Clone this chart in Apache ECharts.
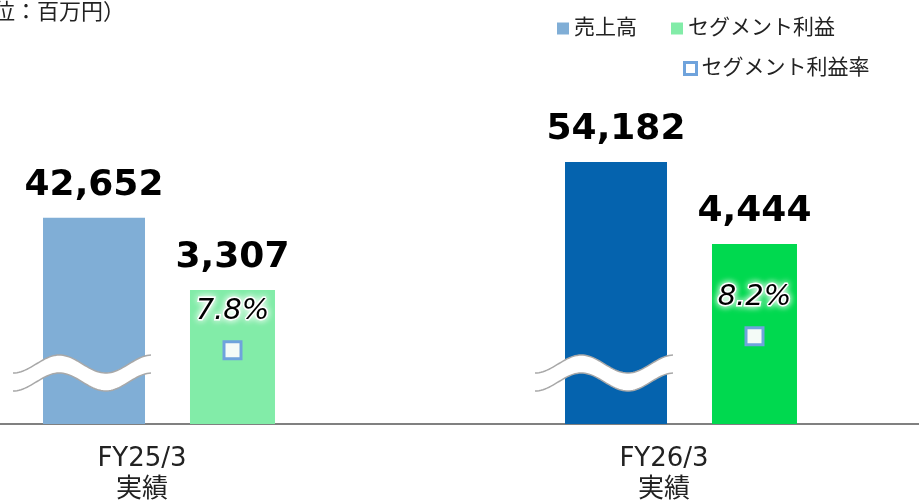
<!DOCTYPE html>
<html>
<head>
<meta charset="utf-8">
<title>売上高・セグメント利益</title>
<script src="https://cdn.jsdelivr.net/npm/echarts@6/dist/echarts.min.js"></script>
<style>
    *{ margin:0; padding:0; }
    html, body{ width:100%; height:100%; background:#fff; }
    #main{ width:919px; height:503px; }
</style>
</head>
<body>
<div id="main"></div>
<script>
    // データ
    var categories = ['FY25/3\n実績', 'FY26/3\n実績'];
    var sales = [42652, 54182];      // 売上高
    var profit = [3307, 4444];       // セグメント利益
    var margin = [7.8, 8.2];         // セグメント利益率(%)
    var salesColors = ['#80aed6', '#0563ae'];
    var profitColors = ['#82eca8', '#00d94f'];

    var FONT = "'DejaVu Sans', 'Noto Sans CJK JP', sans-serif";

    var myChart = echarts.init(document.getElementById('main'));

    function fmt(v){ return v.toLocaleString('en-US'); }

    var salesData = sales.map(function(v, i){
        return { value: v, itemStyle: { color: salesColors[i] } };
    });
    var profitData = profit.map(function(v, i){
        return { value: v, itemStyle: { color: profitColors[i] } };
    });

    var valueLabel = {
        show: true,
        position: 'top',
        distance: 14,
        color: '#000',
        fontFamily: FONT,
        fontWeight: 'bold',
        fontSize: 36,
        formatter: function(p){ return fmt(p.value); }
    };

    myChart.setOption({
        animation: false,
        textStyle: { fontFamily: FONT },
        grid: { left: -102, right: -23, top: 24, bottom: 79,
                containLabel: false, outerBoundsMode: 'none' },
        legend: [{
            left: 552, top: 13,
            itemWidth: 12, itemHeight: 12, itemGap: 34,
            icon: 'rect',
            textStyle: { fontSize: 21, color: '#222', fontFamily: FONT },
            data: ['売上高', 'セグメント利益']
        }, {
            left: 678, top: 53,
            itemWidth: 12, itemHeight: 12,
            textStyle: { fontSize: 21, color: '#222', fontFamily: FONT },
            data: [{ name: 'セグメント利益率', icon: 'rect',
                     itemStyle: { color: '#ffffff', borderColor: '#6fa3dc', borderWidth: 3 } }]
        }],
        xAxis: {
            type: 'category',
            data: categories,
            axisTick: { show: false },
            axisLine: { lineStyle: { color: '#808080', width: 2 } },
            axisLabel: {
                color: '#222', fontSize: 26, lineHeight: 31, margin: 20,
                fontFamily: FONT, padding: [0, 34, 0, 0]
            }
        },
        yAxis: [
            { type: 'value', min: 0, max: 82750, show: false },
            { type: 'value', min: 0, max: 9870, show: false },
            { type: 'value', min: 5.7, max: 17.1, show: false }
        ],
        series: [{
            name: '売上高',
            type: 'bar',
            yAxisIndex: 0,
            barWidth: 102,
            barGap: '44.1%',
            itemStyle: { color: salesColors[0] },
            label: valueLabel,
            data: salesData
        }, {
            name: 'セグメント利益',
            type: 'bar',
            yAxisIndex: 1,
            barWidth: 85,
            itemStyle: { color: profitColors[0] },
            label: valueLabel,
            data: profitData
        }, {
            name: 'セグメント利益率',
            type: 'line',
            yAxisIndex: 2,
            symbol: 'rect',
            symbolSize: 17,
            symbolOffset: [73.5, 0],
            lineStyle: { opacity: 0 },
            itemStyle: { color: '#f4fbf7', borderColor: '#6fa3dc', borderWidth: 3 },
            label: {
                show: true,
                position: 'top',
                distance: 14,
                color: '#000',
                fontFamily: FONT,
                fontStyle: 'italic',
                fontSize: 29,
                textBorderColor: '#fff',
                textBorderWidth: 3,
                textShadowColor: '#fff',
                textShadowBlur: 7,
                formatter: function(p){ return p.value.toFixed(1) + '%'; }
            },
            z: 5,
            data: margin
        }]
    });

    // 波線(省略記号)を売上高の棒の上に描く
    function wavePoints(x0, x1, cy, amp){
        var pts = [];
        var period = (x1 - x0) / 1.5;
        for (var x = x0; x <= x1 + 0.01; x += 2) {
            pts.push([x, cy + amp * Math.cos(2 * Math.PI * (x - x0) / period)]);
        }
        return pts;
    }

    var graphics = [{
        type: 'text', id: 'unit', left: -51, top: 0,
        style: { text: '（単位：百万円）', fontSize: 22, fill: '#222',
                 fontFamily: "'Noto Sans CJK JP', sans-serif" }
    }];

    var barData = myChart.getModel().getSeriesByIndex(0).getData();
    for (var i = 0; i < sales.length; i++) {
        var lay = barData.getItemLayout(i);
        var base = Math.max(lay.y, lay.y + lay.height);
        var x0 = lay.x - 30, x1 = lay.x + lay.width + 7;
        var up = wavePoints(x0, x1, base - 60, 9);
        var low = wavePoints(x0, x1, base - 42, 9);
        graphics.push({
            type: 'polygon', z: 10,
            shape: { points: up.concat(low.slice().reverse()) },
            style: { fill: '#ffffff', stroke: null }
        }, {
            type: 'polyline', z: 11,
            shape: { points: up },
            style: { stroke: '#a8a8a8', lineWidth: 1.5, fill: null }
        }, {
            type: 'polyline', z: 11,
            shape: { points: low },
            style: { stroke: '#a8a8a8', lineWidth: 1.5, fill: null }
        });
    }
    myChart.setOption({ graphic: graphics });
</script>
</body>
</html>
